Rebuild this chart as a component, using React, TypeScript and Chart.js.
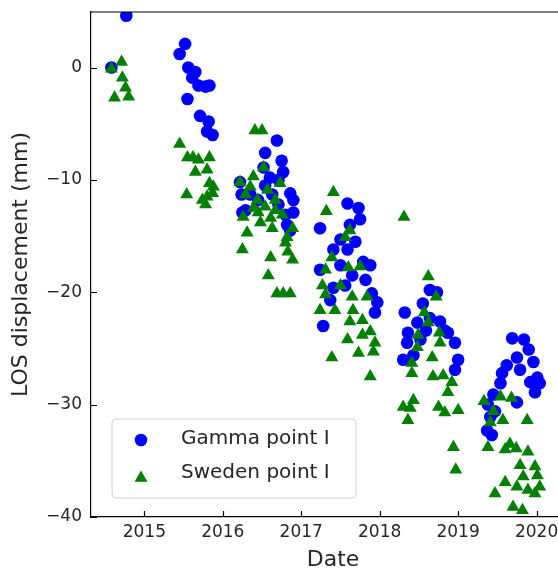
import React, { useEffect, useRef } from "react";
import { Chart, registerables } from "chart.js";

Chart.register(...registerables);

const SERIES_NAMES = ["Gamma point I", "Sweden point I"];
const X_TICKS = [2015, 2016, 2017, 2018, 2019, 2020];
const Y_TICKS = [0, -10, -20, -30, -40];
const X_TITLE = "Date";
const Y_TITLE = "LOS displacement (mm)";

// Gamma point I (decimal year, mm)
const gammaDates = [
  2014.58, 2014.77, 2014.79,
  2015.52, 2015.45, 2015.56, 2015.65, 2015.61, 2015.69, 2015.78, 2015.83, 2015.55, 2015.71, 2015.82, 2015.8, 2015.87,
  2016.69, 2016.54, 2016.75, 2016.77, 2016.52, 2016.22, 2016.71, 2016.86, 2016.9, 2016.9, 2016.25, 2016.82, 2016.35, 2016.45, 2016.54, 2016.63, 2016.71, 2016.29, 2016.8, 2016.86, 2016.24, 2016.6,
  2017.59, 2017.73, 2017.75, 2017.24, 2017.62, 2017.5, 2017.69, 2017.41, 2017.59, 2017.79, 2017.88, 2017.24, 2017.82, 2017.41, 2017.9, 2017.97, 2017.94, 2017.28, 2017.37, 2017.5, 2017.65, 2017.56,
  2018.73, 2018.64, 2018.55, 2018.32, 2018.48, 2018.64, 2018.77, 2018.87, 2018.96, 2018.36, 2018.35, 2018.3, 2018.43, 2019.0, 2018.96, 2018.52, 2018.59, 2018.83,
  2019.69, 2019.84, 2019.9, 2019.75, 2019.96, 2019.62, 2019.56, 2019.79, 2020.01, 2019.92, 2020.04, 2019.54, 2019.98, 2019.45, 2019.75, 2019.38, 2019.41, 2019.37, 2019.43, 2019.47,
];
const gammaDisp = [
  0.0, 4.6, 5.3,
  2.1, 1.2, 0.0, -0.4, -0.9, -1.6, -1.7, -1.6, -2.8, -4.3, -4.8, -5.7, -6.0,
  -6.5, -7.6, -8.3, -9.3, -8.9, -10.2, -10.0, -11.2, -11.8, -12.9, -12.9, -14.0, -11.3, -11.8, -10.5, -11.3, -12.2, -12.7, -13.1, -14.5, -11.3, -9.8,
  -12.1, -12.5, -13.5, -14.3, -14.0, -15.3, -15.5, -16.2, -16.2, -17.3, -17.6, -18.0, -18.9, -19.6, -20.1, -20.9, -21.8, -23.0, -20.7, -17.6, -18.5, -19.4,
  -20.0, -19.8, -21.0, -21.8, -22.7, -22.3, -22.6, -23.6, -24.5, -23.6, -24.5, -26.0, -25.6, -26.0, -26.9, -24.2, -23.4, -23.4,
  -24.1, -24.2, -25.1, -25.8, -26.2, -26.5, -27.2, -26.9, -27.6, -28.0, -28.1, -28.1, -28.9, -29.1, -29.8, -30.0, -31.1, -32.3, -32.7, -30.6,
];

// Sweden point I (decimal year, mm)
const swedenDates = [
  2014.58, 2014.71, 2014.72, 2014.76, 2014.62, 2014.8,
  2015.45, 2015.55, 2015.62, 2015.69, 2015.83, 2015.65, 2015.8, 2015.83, 2015.88, 2015.54, 2015.74, 2015.8, 2015.78, 2015.87,
  2016.41, 2016.5, 2016.52, 2016.22, 2016.39, 2016.35, 2016.57, 2016.73, 2016.67, 2016.39, 2016.26, 2016.45, 2016.48, 2016.63, 2016.76, 2016.89, 2016.31, 2016.82, 2016.25, 2016.61, 2016.83, 2016.89, 2016.58, 2016.69, 2016.77, 2016.86, 2016.29, 2016.44, 2016.54, 2016.61, 2016.8, 2016.67,
  2017.41, 2017.32, 2017.62, 2017.56, 2017.39, 2017.75, 2017.31, 2017.6, 2017.27, 2017.5, 2017.84, 2017.31, 2017.65, 2017.24, 2017.43, 2017.66, 2017.78, 2017.62, 2017.88, 2017.59, 2017.78, 2017.94, 2017.39, 2017.73, 2017.92, 2017.88,
  2018.31, 2018.62, 2018.72, 2018.57, 2018.62, 2018.76, 2018.49, 2018.48, 2018.67, 2018.77, 2018.41, 2018.41, 2018.68, 2018.81, 2018.92, 2018.87, 2018.43, 2018.3, 2018.39, 2018.36, 2018.75, 2018.83, 2019.0, 2018.94, 2018.97,
  2019.33, 2019.54, 2019.68, 2019.45, 2019.57, 2019.41, 2019.88, 2019.38, 2019.66, 2019.6, 2019.74, 2019.89, 2019.79, 2019.98, 2019.83, 2020.01, 2019.6, 2019.47, 2019.75, 2019.89, 2020.04, 2019.98, 2019.7, 2019.82,
];
const swedenDisp = [
  -0.1, 0.5, -0.9, -1.8, -2.7, -2.6,
  -6.8, -8.0, -8.0, -8.2, -8.0, -9.3, -9.1, -10.3, -10.6, -11.3, -11.8, -11.5, -12.2, -11.2,
  -5.6, -5.6, -8.9, -10.2, -9.7, -10.6, -10.9, -10.3, -11.8, -12.5, -13.3, -12.9, -13.8, -14.3, -13.1, -14.3, -14.7, -15.1, -16.2, -16.9, -16.4, -17.1, -18.5, -20.1, -20.1, -20.1, -11.3, -11.8, -12.4, -13.4, -15.6, -12.7,
  -11.1, -12.8, -14.5, -15.1, -16.9, -17.7, -18.0, -17.8, -19.4, -19.4, -20.4, -20.2, -20.4, -21.6, -21.6, -21.6, -22.5, -22.6, -23.5, -24.2, -23.8, -24.5, -25.8, -25.4, -25.3, -27.5,
  -13.3, -18.6, -20.4, -21.8, -22.7, -23.6, -23.8, -24.9, -25.8, -24.5, -26.3, -27.2, -27.5, -27.4, -28.0, -28.9, -29.6, -30.2, -30.3, -31.4, -30.2, -30.7, -30.5, -33.8, -35.8,
  -29.7, -29.3, -29.4, -30.6, -31.4, -31.6, -31.4, -33.8, -33.5, -34.0, -33.9, -34.2, -35.4, -35.5, -36.4, -36.3, -36.9, -37.9, -37.3, -37.6, -37.3, -37.9, -39.1, -39.4,
];

const X_MIN = 2014.32;
const X_MAX = 2020.49;
const Y_MIN = -40;
const Y_MAX = 4.94;

const BLUE = "#0000ff";
const GREEN = "#008000";
const TEXT = "#262626";
const FONT = "'DejaVu Sans', sans-serif";

const CANVAS_W = 600;
const CANVAS_H = 573;
const AREA_LEFT = 91;
const AREA_TOP = 12;
const AREA_RIGHT = 575;
const AREA_BOTTOM = 517;

const fmtMinus = (v: number) => (v < 0 ? "\u2212" + Math.abs(v) : String(v));

const axesPlugin = {
  id: "mplAxes",
  afterDraw(chart: any) {
    const { ctx, chartArea } = chart;
    const xs = chart.scales.x;
    const ys = chart.scales.y;
    ctx.save();
    ctx.strokeStyle = "#000";
    ctx.lineWidth = 1.2;
    // top spine
    ctx.beginPath();
    ctx.moveTo(chartArea.left, chartArea.top);
    ctx.lineTo(chartArea.right, chartArea.top);
    ctx.stroke();
    // inward ticks
    ctx.beginPath();
    X_TICKS.forEach((v) => {
      const px = Math.round(xs.getPixelForValue(v)) + 0.5;
      ctx.moveTo(px, chartArea.bottom);
      ctx.lineTo(px, chartArea.bottom - 6);
    });
    Y_TICKS.forEach((v) => {
      const py = Math.round(ys.getPixelForValue(v)) + 0.5;
      ctx.moveTo(chartArea.left, py);
      ctx.lineTo(chartArea.left + 6, py);
    });
    ctx.stroke();

    // legend (lower left inside axes)
    const bx = chartArea.left + 21;
    const bh = 79;
    const by = chartArea.bottom - 19 - bh;
    const bw = 244;
    const r = 4;
    ctx.beginPath();
    ctx.moveTo(bx + r, by);
    ctx.lineTo(bx + bw - r, by);
    ctx.arcTo(bx + bw, by, bx + bw, by + r, r);
    ctx.lineTo(bx + bw, by + bh - r);
    ctx.arcTo(bx + bw, by + bh, bx + bw - r, by + bh, r);
    ctx.lineTo(bx + r, by + bh);
    ctx.arcTo(bx, by + bh, bx, by + bh - r, r);
    ctx.lineTo(bx, by + r);
    ctx.arcTo(bx, by, bx + r, by, r);
    ctx.closePath();
    ctx.fillStyle = "rgba(255,255,255,0.8)";
    ctx.fill();
    ctx.strokeStyle = "#d0d0d0";
    ctx.lineWidth = 1;
    ctx.stroke();

    const mx = bx + 29;
    const row1 = by + 21;
    const row2 = by + 57;
    // circle marker
    ctx.fillStyle = BLUE;
    ctx.beginPath();
    ctx.arc(mx, row1, 6.3, 0, Math.PI * 2);
    ctx.fill();
    // triangle marker
    const tr = 7.5;
    const cy = row2 + tr * 0.25;
    ctx.fillStyle = GREEN;
    ctx.beginPath();
    ctx.moveTo(mx, cy - tr);
    ctx.lineTo(mx + tr * Math.sin((2 * Math.PI) / 3), cy - tr * Math.cos((2 * Math.PI) / 3));
    ctx.lineTo(mx + tr * Math.sin((4 * Math.PI) / 3), cy - tr * Math.cos((4 * Math.PI) / 3));
    ctx.closePath();
    ctx.fill();

    ctx.fillStyle = TEXT;
    ctx.font = `20px ${FONT}`;
    ctx.textBaseline = "middle";
    ctx.textAlign = "left";
    ctx.fillText(SERIES_NAMES[0], bx + 69, row1 - 1);
    ctx.fillText(SERIES_NAMES[1], bx + 69, row2 - 3);
    ctx.restore();
  },
};

export default function App() {
  const ref = useRef<HTMLCanvasElement | null>(null);

  useEffect(() => {
    if (!ref.current) return;
    const gamma = gammaDates.map((d, i) => ({ x: d, y: gammaDisp[i] }));
    const sweden = swedenDates.map((d, i) => ({ x: d, y: swedenDisp[i] }));
    const chart = new Chart(ref.current, {
      type: "scatter",
      data: {
        datasets: [
          {
            label: SERIES_NAMES[0],
            data: gamma,
            pointStyle: "circle",
            pointRadius: 6.3,
            pointHoverRadius: 6.3,
            backgroundColor: BLUE,
            borderColor: BLUE,
            borderWidth: 0,
            order: 1,
            clip: 0,
          },
          {
            label: SERIES_NAMES[1],
            data: sweden,
            pointStyle: "triangle",
            pointRadius: 7.5,
            pointHoverRadius: 7.5,
            backgroundColor: GREEN,
            borderColor: GREEN,
            borderWidth: 0,
            order: 0,
            clip: 0,
          },
        ],
      },
      options: {
        responsive: false,
        animation: false,
        devicePixelRatio: 1,
        layout: { padding: { left: 0, right: CANVAS_W - AREA_RIGHT, top: AREA_TOP, bottom: 0 } },
        plugins: {
          legend: { display: false },
          tooltip: { enabled: false },
        },
        scales: {
          x: {
            type: "linear",
            min: X_MIN,
            max: X_MAX,
            afterBuildTicks: (scale: any) => {
              scale.ticks = X_TICKS.map((v) => ({ value: v }));
            },
            afterFit: (scale: any) => {
              scale.height = CANVAS_H - AREA_BOTTOM;
              scale.paddingLeft = 0;
              scale.paddingRight = 0;
            },
            grid: { display: false, drawTicks: false },
            border: { display: true, color: "#000", width: 1.2 },
            ticks: {
              callback: (v: any) => String(v),
              color: TEXT,
              font: { family: FONT, size: 17 },
              padding: 5,
              maxRotation: 0,
              autoSkip: false,
            },
            title: {
              display: true,
              text: X_TITLE,
              color: TEXT,
              font: { family: FONT, size: 22 },
              padding: { top: 0, bottom: 0 },
            },
          },
          y: {
            type: "linear",
            min: Y_MIN,
            max: Y_MAX,
            afterBuildTicks: (scale: any) => {
              scale.ticks = Y_TICKS.map((v) => ({ value: v }));
            },
            afterFit: (scale: any) => {
              scale.width = AREA_LEFT;
              scale.paddingTop = 0;
              scale.paddingBottom = 0;
            },
            grid: { display: false, drawTicks: false },
            border: { display: true, color: "#000", width: 1.2 },
            ticks: {
              callback: (v: any) => fmtMinus(Number(v)),
              color: TEXT,
              font: { family: FONT, size: 17 },
              padding: 9,
              autoSkip: false,
            },
            title: {
              display: true,
              text: Y_TITLE,
              color: TEXT,
              font: { family: FONT, size: 22 },
              padding: { top: 8, bottom: 4 },
            },
          },
        },
      },
      plugins: [axesPlugin],
    });
    return () => chart.destroy();
  }, []);

  return (
    <div
      style={{
        position: "fixed",
        left: 0,
        top: 0,
        width: 558,
        height: 573,
        overflow: "hidden",
        background: "#fff",
      }}
    >
      <canvas ref={ref} width={CANVAS_W} height={CANVAS_H} style={{ display: "block", width: CANVAS_W, height: CANVAS_H }} />
    </div>
  );
}
